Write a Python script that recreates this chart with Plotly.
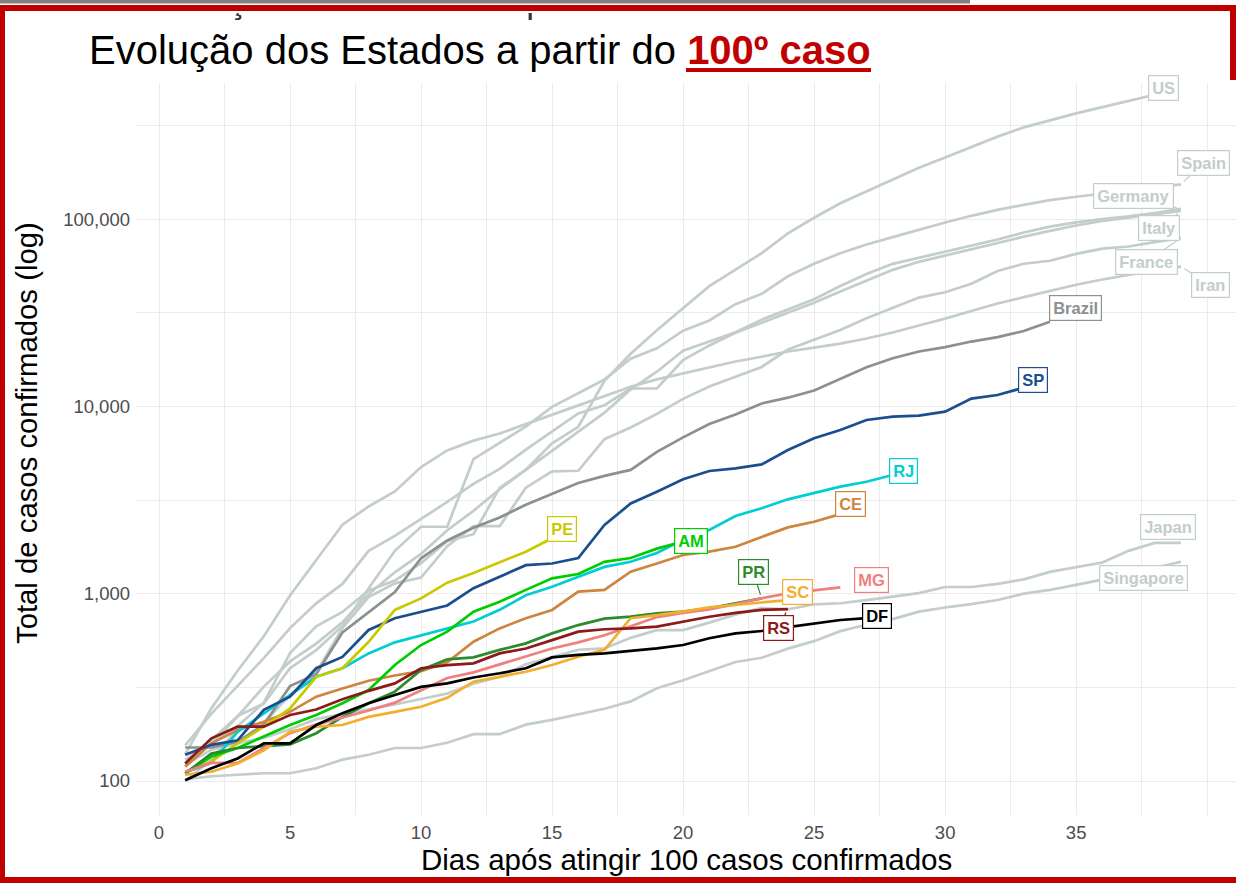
import math
import plotly.graph_objects as go

# ---------------- data ----------------
# countries (day 1 = first day with >= 100 cases)
us = [124, 158, 221, 319, 435, 541, 704, 994, 1301, 1630, 2183, 2770, 3613, 4596, 6344, 7783,
      13677, 19100, 25489, 33276, 43847, 53740, 65778, 83836, 101657, 121478, 140886, 161807,
      188172, 213372, 243453, 275586, 308850, 337072, 366667, 396223, 429052, 461437]
spain = [120, 165, 222, 259, 400, 500, 673, 1073, 1695, 2277, 2277, 5232, 6391, 7798, 9942, 11748,
         13910, 17963, 20410, 25374, 28768, 35136, 39885, 49515, 57786, 65719, 73235, 80110, 87956,
         95923, 104118, 112065, 119199, 126168, 131646, 136675, 141942, 148220, 153222]
germany = [130, 159, 196, 262, 482, 670, 799, 1040, 1176, 1457, 1908, 2078, 3675, 4585, 5795, 7272,
           9257, 12327, 15320, 19848, 22213, 24873, 29056, 32986, 37323, 43938, 50871, 57695, 62095,
           66885, 71808, 77872, 84794, 91159, 96092, 100123, 103374, 107663, 113296]
italy = [155, 229, 322, 453, 655, 888, 1128, 1694, 2036, 2502, 3089, 3858, 4636, 5883, 7375, 9172,
         10149, 12462, 12462, 17660, 21157, 24747, 27980, 31506, 35713, 41035, 47021, 53578, 59138,
         63927, 69176, 74386, 80589, 86498, 92472, 97689, 101739, 105792, 110574]
france = [100, 130, 191, 204, 288, 380, 656, 959, 1136, 1219, 1794, 2293, 2293, 3681, 4496, 4532,
          6683, 7715, 9124, 10970, 12758, 14463, 16243, 20123, 22622, 25600, 29551, 33402, 38105,
          40708, 45170, 52827, 57749, 59929, 65202, 69500, 71412, 75343, 79163]
iran = [139, 245, 388, 593, 978, 1501, 2336, 2922, 3513, 4747, 5823, 6566, 7161, 8042, 9000, 10075,
        11364, 12729, 13938, 14991, 16169, 17361, 18407, 19644, 20610, 21638, 23049, 24811, 27017,
        29406, 32332, 35408, 38309, 41495, 44605, 47593, 50468, 53183, 55743]
japan = [122, 147, 159, 170, 189, 214, 228, 241, 256, 274, 293, 331, 360, 420, 461, 502, 511, 581,
         639, 639, 701, 773, 839, 825, 878, 889, 924, 963, 1007, 1086, 1086, 1128, 1193, 1307, 1387,
         1468, 1693, 1866, 1866]
singapore = [102, 106, 108, 110, 110, 117, 130, 138, 150, 150, 160, 178, 178, 200, 212, 226, 243,
             266, 313, 345, 385, 432, 455, 509, 558, 631, 683, 732, 802, 844, 879, 926, 1000, 1049,
             1114, 1189, 1309, 1375, 1481]
brazil = [151, 151, 162, 200, 321, 372, 621, 793, 1021, 1546, 1924, 2247, 2554, 2985, 3417, 3904,
          4256, 4579, 5717, 6836, 8044, 9056, 10360, 11130, 12161, 14034, 16170, 18092, 19638, 20727,
          22192, 23430, 25262, 28320]

# Brazilian states
sp = [138, 156, 165, 240, 282, 400, 460, 640, 740, 800, 865, 1070, 1230, 1420, 1450, 1550, 2330,
      3030, 3506, 4080, 4520, 4670, 4900, 5850, 6760, 7480, 8460, 8810, 8920, 9370, 11000, 11500, 12600]
rj = [111, 125, 183, 230, 288, 360, 400, 480, 550, 600, 655, 710, 820, 980, 1090, 1230, 1390, 1480,
      1650, 1940, 2190, 2600, 2860, 3190, 3440, 3730, 3960, 4300]
ce = [119, 159, 187, 207, 234, 282, 312, 343, 366, 386, 430, 554, 653, 739, 819, 1025, 1048, 1310,
      1450, 1610, 1677, 1780, 2010, 2260, 2420, 2660]
pe = [112, 127, 159, 195, 244, 360, 400, 554, 819, 944, 1145, 1290, 1472, 1676, 1977]
am = [110, 135, 150, 172, 199, 225, 260, 306, 416, 532, 627, 802, 906, 1048, 1208, 1273, 1480, 1550,
      1740, 1900]
pr = [110, 140, 150, 154, 157, 180, 220, 260, 300, 392, 446, 457, 501, 543, 614, 680, 736, 754, 785,
      802, 836, 889, 944]
sc = [108, 112, 124, 146, 183, 195, 199, 220, 234, 249, 278, 339, 360, 383, 416, 461, 501, 740, 769,
      802, 846, 871, 896, 925]
mg = [112, 125, 125, 150, 180, 200, 218, 238, 262, 305, 355, 380, 420, 465, 510, 550, 600, 670, 750,
      790, 825, 880, 945, 1005, 1045, 1080]
rs = [124, 169, 195, 195, 225, 241, 273, 303, 332, 400, 416, 425, 480, 510, 565, 627, 646, 653, 667,
      708, 753, 790, 819, 828]
df = [101, 117, 132, 159, 159, 199, 230, 260, 288, 318, 332, 357, 376, 400, 457, 471, 480, 494, 511,
      532, 578, 614, 632, 663, 695, 724, 740]

x_ticks = [0, 5, 10, 15, 20, 25, 30, 35]
y_ticks = [100, 1000, 10000, 100000]
y_tick_text = ["100", "1,000", "10,000", "100,000"]

title_plain = "Evolução dos Estados a partir do "
title_bold = "100º caso"
x_title = "Dias após atingir 100 casos confirmados"
y_title = "Total de casos confirmados (log)"

# ---------------- styles ----------------
GRAY = "#C3CDCB"
series = [
    ("US", us, GRAY), ("Spain", spain, GRAY), ("Germany", germany, GRAY), ("Italy", italy, GRAY),
    ("France", france, GRAY), ("Iran", iran, GRAY), ("Japan", japan, GRAY),
    ("Singapore", singapore, GRAY), ("Brazil", brazil, "#8C908F"),
    ("CE", ce, "#CD853F"), ("RJ", rj, "#00CED1"), ("SP", sp, "#1C4E8F"), ("PE", pe, "#C9C900"),
    ("AM", am, "#00CD00"), ("PR", pr, "#2A8C2A"), ("MG", mg, "#F08080"), ("SC", sc, "#F2AE2E"),
    ("RS", rs, "#8B1A1A"), ("DF", df, "#000000"),
]

# label positions (day, log10 value) and whether a connector is drawn
label_pos = {
    "US": (38.32, 5.70, False), "Spain": (39.85, 5.30, True), "Germany": (37.18, 5.123, True),
    "Italy": (38.17, 4.952, True), "France": (37.67, 4.771, True), "Iran": (40.11, 4.648, True),
    "Brazil": (34.96, 4.525, False), "SP": (33.36, 4.141, False), "RJ": (28.4, 3.655, False),
    "CE": (26.37, 3.479, False), "PE": (15.38, 3.345, False), "AM": (20.31, 3.281, False),
    "PR": (22.67, 3.116, True), "SC": (24.35, 3.009, False), "MG": (27.18, 3.073, False),
    "DF": (27.4, 2.881, False), "RS": (23.63, 2.817, True), "Japan": (38.51, 3.356, False),
    "Singapore": (37.56, 3.084, False),
}

FONT = "Liberation Sans, Arial, sans-serif"
W, H = 1236, 883
L, R, T, B = 136, 0, 83, 68
PW, PH = W - L - R, H - T - B


def px(x):
    return (x - L) / PW


def py(y):
    return (H - B - y) / PH


fig = go.Figure()
for name, vals, col in series:
    fig.add_trace(go.Scatter(
        x=list(range(1, len(vals) + 1)), y=vals, mode="lines", name=name,
        line=dict(color=col, width=2.7), hoverinfo="skip", showlegend=False))

annotations = []
for name, vals, col in series:
    lx, ly, conn = label_pos[name]
    common = dict(text="<b>%s</b>" % name, font=dict(family=FONT, size=16.5, color=col),
                  bgcolor="white", bordercolor=col, borderwidth=1.2, borderpad=3, opacity=1)
    if conn:
        annotations.append(dict(x=len(vals), y=math.log10(vals[-1]), xref="x", yref="y",
                                ax=lx, ay=ly, axref="x", ayref="y", showarrow=True,
                                arrowhead=0, arrowwidth=1.2, arrowcolor=col, standoff=4, **common))
    else:
        annotations.append(dict(x=lx, y=ly, xref="x", yref="y", showarrow=False, **common))

# title and axis titles
annotations.append(dict(
    x=px(87), y=py(50), xref="paper", yref="paper", xanchor="left", yanchor="middle",
    showarrow=False,
    text=title_plain + "<b><span style='color:#C00000'>%s</span></b>" % title_bold,
    font=dict(family=FONT, size=40, color="black")))
annotations.append(dict(x=px(686), y=py(859), xref="paper", yref="paper", showarrow=False,
                        xanchor="center", yanchor="middle", text=x_title,
                        font=dict(family=FONT, size=29.5, color="black")))
annotations.append(dict(x=px(26), y=py(433), xref="paper", yref="paper", showarrow=False,
                        xanchor="center", yanchor="middle", text=y_title, textangle=-90,
                        font=dict(family=FONT, size=29.3, color="black")))


def rect(x0, y0, x1, y1, color):
    return dict(type="rect", xref="paper", yref="paper", x0=px(x0), x1=px(x1), y0=py(y1),
                y1=py(y0), fillcolor=color, line=dict(width=0), layer="above")


shapes = [
    # ghost of a title hidden behind the slide frame
    dict(type="rect", xref="paper", yref="paper", x0=px(138), x1=px(900), y0=py(17), y1=py(-60),
         fillcolor="rgba(0,0,0,0)", line=dict(width=0), layer="above",
         label=dict(text=title_plain.strip() + " 100º", textposition="bottom left", padding=0,
                    font=dict(family=FONT, size=35, color="#333333"))),
    rect(-5, -5, 1241, 13, "white"),
    rect(0, 0, 970, 3.5, "#808080"),
    rect(0, 5, 1236, 11, "#C00000"),
    rect(0, 5, 5, 883, "#C00000"),
    rect(0, 877, 1236, 883, "#C00000"),
    rect(1230, 5, 1236, 80, "#C00000"),
    # underline of the red part of the title
    dict(type="line", xref="paper", yref="paper", x0=px(686), x1=px(871), y0=py(70), y1=py(70),
         line=dict(color="#C00000", width=4), layer="above"),
]

fig.update_layout(
    width=W, height=H, margin=dict(l=L, r=R, t=T, b=B, pad=0),
    paper_bgcolor="white", plot_bgcolor="white", showlegend=False, hovermode=False,
    annotations=annotations, shapes=shapes,
    xaxis=dict(range=[-0.878, 41.1], tickvals=x_ticks, showline=False, zeroline=False, ticks="",
               showgrid=True, gridcolor="#EBEBEB", gridwidth=1.3,
               minor=dict(dtick=2.5, tick0=0, showgrid=True, gridcolor="#EBEBEB", gridwidth=1.1),
               tickfont=dict(family=FONT, size=18.5, color="#4D4D4D"), ticklabelstandoff=4),
    yaxis=dict(type="log", range=[1.8185, 5.7266], tickvals=y_ticks, ticktext=y_tick_text,
               showline=False, zeroline=False, ticks="", showgrid=True, gridcolor="#EBEBEB",
               gridwidth=1.3,
               minor=dict(tickvals=[10 ** 2.5, 10 ** 3.5, 10 ** 4.5, 10 ** 5.5], showgrid=True,
                          gridcolor="#EBEBEB", gridwidth=1.1),
               tickfont=dict(family=FONT, size=18.5, color="#4D4D4D"), ticklabelstandoff=5),
)

fig.write_html("out.html", config={"displayModeBar": False},
               post_script="document.body.style.margin='0';document.body.style.overflow='hidden';")
